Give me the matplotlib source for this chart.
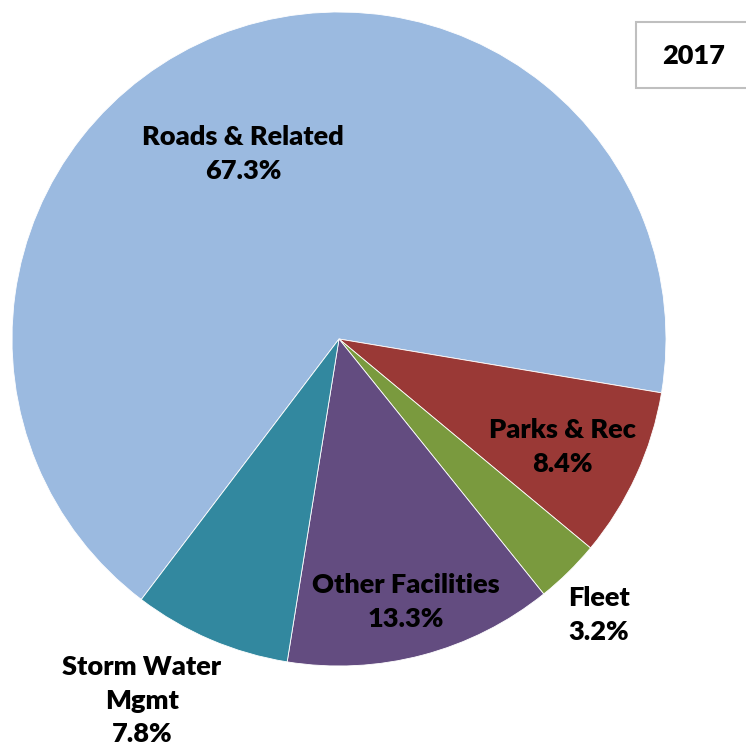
import numpy as np
import matplotlib.pyplot as plt
from matplotlib.patches import Rectangle

# capital spending share by category, 2017
categories = ["Roads & Related", "Parks & Rec", "Fleet", "Other Facilities", "Storm Water\nMgmt"]
shares = [67.3, 8.4, 3.2, 13.3, 7.8]
colors = ["#9BBAE0", "#9A3936", "#7A9A3E", "#634C80", "#32889F"]
year = "2017"

# label placement: (radius fraction, angle) measured from the pie centre
label_pos = [(0.638, 117.4), (0.76, -25.8), (1.16, -46.7), (0.83, -75.8), (1.26, -118.6)]

plt.rcParams['font.family'] = ['Lato', 'DejaVu Sans']

fig = plt.figure(figsize=(7.46, 7.54), dpi=100)
ax = fig.add_axes([0, 0, 1, 1])

cx, cy, r = 339, 754 - 339, 327
ax.pie(shares, colors=colors, startangle=232.8, counterclock=False,
       center=(cx, cy), radius=r, frame=True,
       wedgeprops=dict(edgecolor="white", linewidth=0.6))
ax.set_xlim(0, 746)
ax.set_ylim(0, 754)
ax.set_aspect("equal")
ax.axis("off")

for name, val, (f, ang) in zip(categories, shares, label_pos):
    a = np.deg2rad(ang)
    ax.text(cx + f * r * np.cos(a), cy + f * r * np.sin(a),
            f"{name}\n{val:.1f}%", ha="center", va="center",
            fontsize=19.5, fontweight="heavy", color="black", linespacing=1.48)

# year box in the top right corner, running off the right edge
ax.add_patch(Rectangle((636, 754 - 88), 120, 66, facecolor="white",
                       edgecolor="#BFBFBF", linewidth=1.5, clip_on=False))
ax.text(694, 754 - 56, year, ha="center", va="center", fontsize=19.5, fontweight="heavy")

fig.savefig("out.png", dpi=100)
